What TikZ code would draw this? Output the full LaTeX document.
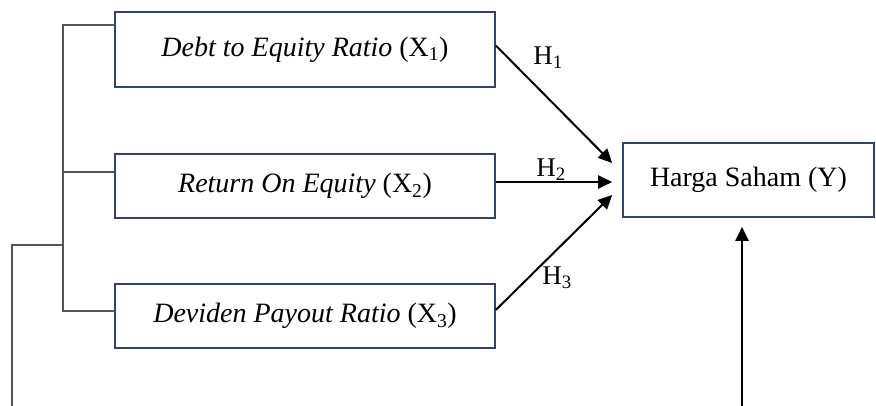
\documentclass[tikz,border=0pt]{standalone}
\usepackage{fontspec}
\setmainfont{Liberation Serif}
\usetikzlibrary{arrows.meta,calc}
\definecolor{boxblue}{HTML}{2F4468}
\definecolor{brk}{HTML}{555555}
\begin{document}
\begin{tikzpicture}[x=1pt,y=-1pt,
  varbox/.style={draw=boxblue,line width=1.6pt,minimum width=380pt,inner sep=0pt,font=\fontsize{28}{32}\selectfont},
  ybox/.style={draw=boxblue,line width=1.6pt,minimum width=251pt,minimum height=74pt,inner sep=0pt,font=\fontsize{28}{32}\selectfont},
  hlab/.style={font=\fontsize{27}{30}\selectfont,inner sep=0pt},
  arr/.style={line width=2pt,-{Triangle[length=14pt,width=13pt]}},
  brkline/.style={draw=brk,line width=1.3pt}]
\useasboundingbox (0,0) rectangle (876,406);
\node[varbox,minimum height=75pt] (b1) at (305,49.5) {\textit{Debt to Equity Ratio} (X\textsubscript{1})};
\node[varbox,minimum height=64pt] (b2) at (305,186) {\textit{Return On Equity} (X\textsubscript{2})};
\node[varbox,minimum height=64pt] (b3) at (305,316) {\textit{Deviden Payout Ratio} (X\textsubscript{3})};
\node[ybox] (y) at (748.5,180) {Harga Saham (Y)};
% bracket
\coordinate (k1) at (63,25);
\coordinate (k2) at (63,172);
\coordinate (k3) at (63,311);
\coordinate (km) at (63,245);
\coordinate (kl) at (12,245);
\coordinate (kb) at (12,406);
\draw[brkline] (b1.west |- k1) -- (k1) -- (k3) -- (b3.west |- k3);
\draw[brkline] (k2) -- (b2.west |- k2);
\draw[brkline] (km) -- (kl) -- (kb);
% arrows
\coordinate (t1) at ($(y.west)+(-10,-17)$);
\coordinate (t2) at ($(y.west)+(-10,2)$);
\coordinate (t3) at ($(y.west)+(-10,15)$);
\coordinate (s1) at ($(b1.east)+(0,-4)$);
\coordinate (s3) at ($(b3.east)+(0,-6)$);
\draw[arr] (s1) -- (t1);
\draw[arr] (b2.east |- t2) -- (t2);
\draw[arr] (s3) -- (t3);
\coordinate (bot) at (742,406);
\draw[arr] (bot) -- ($(y.south)+(-6.5,9)$);
\node[hlab] (h1) at (548,58) {H\textsubscript{1}};
\node[hlab] (h2) at (551,170) {H\textsubscript{2}};
\node[hlab] (h3) at (557,278) {H\textsubscript{3}};
\end{tikzpicture}
\end{document}
